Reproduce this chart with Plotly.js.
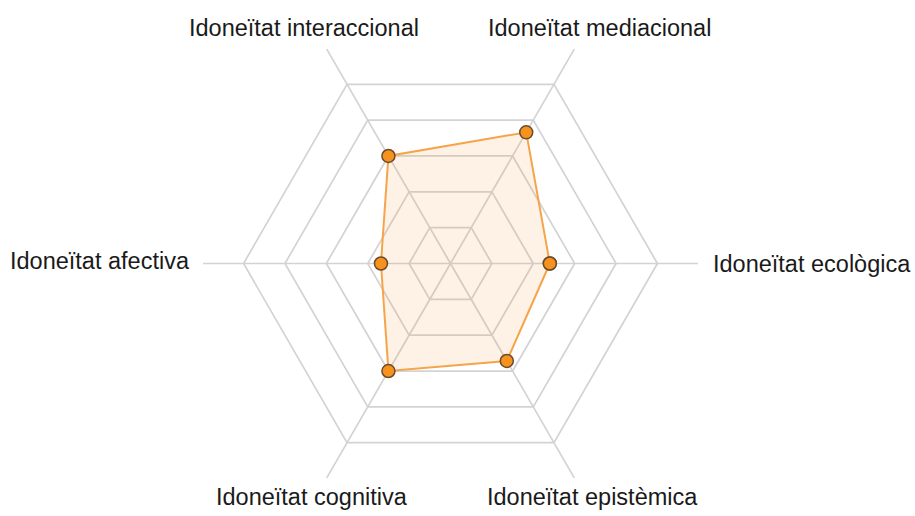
<!DOCTYPE html>
<html>
<head>
<meta charset="utf-8">
<script src="https://cdn.plot.ly/plotly-3.0.1.min.js"></script>
<style>html,body{margin:0;padding:0;background:#fff;}#chart{width:915px;height:516px;}</style>
</head>
<body>
<div id="chart"></div>
<script>
// Data
const categories = ["Idoneïtat ecològica", "Idoneïtat mediacional", "Idoneïtat interaccional", "Idoneïtat afectiva", "Idoneïtat cognitiva", "Idoneïtat epistèmica"];
const values = [2.4, 3.66, 3.0, 1.68, 3.0, 2.72];
const gridTicks = [1, 2, 3, 4, 5];

// label placement (pixel positions of the label anchors)
const W = 915, H = 516;
const margin = {l: 0, r: 14, t: 15.5, b: 4.5};
const pw = W - margin.l - margin.r, ph = H - margin.t - margin.b;
const labelPos = [
  {px: 711, py: 264, xa: 'left'},
  {px: 599, py: 27.5, xa: 'center'},
  {px: 304, py: 27.5, xa: 'center'},
  {px: 192, py: 261, xa: 'right'},
  {px: 312, py: 497.5, xa: 'center'},
  {px: 592, py: 497.5, xa: 'center'}
];

const annotations = categories.map((c, i) => ({
  text: c,
  xref: 'paper', yref: 'paper',
  x: (labelPos[i].px - margin.l) / pw,
  y: (H - margin.b - labelPos[i].py) / ph,
  xanchor: labelPos[i].xa, yanchor: 'middle',
  showarrow: false,
  font: {family: 'Liberation Sans, Arial, sans-serif', size: 23.5, color: '#1a1a1a'}
}));

const trace = {
  type: 'scatterpolar',
  r: values.concat([values[0]]),
  theta: categories.concat([categories[0]]),
  mode: 'lines+markers',
  fill: 'toself',
  fillcolor: 'rgba(245,150,50,0.12)',
  line: {color: '#f5a449', width: 2},
  marker: {color: '#f7921f', size: 13, line: {color: '#6a4b2c', width: 1.5}},
  hoverinfo: 'skip'
};

const layout = {
  width: W, height: H,
  margin: margin,
  paper_bgcolor: '#ffffff',
  showlegend: false,
  polar: {
    domain: {x: [0, 1], y: [0, 1]},
    bgcolor: 'rgba(0,0,0,0)',
    gridshape: 'linear',
    radialaxis: {
      range: [0, 5.98],
      tickvals: gridTicks,
      showticklabels: false,
      ticks: '',
      showline: false,
      gridcolor: '#d3d3d3',
      gridwidth: 1.7
    },
    angularaxis: {
      type: 'category',
      categoryarray: categories,
      rotation: 0,
      direction: 'counterclockwise',
      showline: false,
      showticklabels: false,
      ticks: '',
      gridcolor: '#d3d3d3',
      gridwidth: 1.7
    }
  },
  annotations: annotations
};

Plotly.newPlot('chart', [trace], layout, {displayModeBar: false, staticPlot: true});
</script>
</body>
</html>
